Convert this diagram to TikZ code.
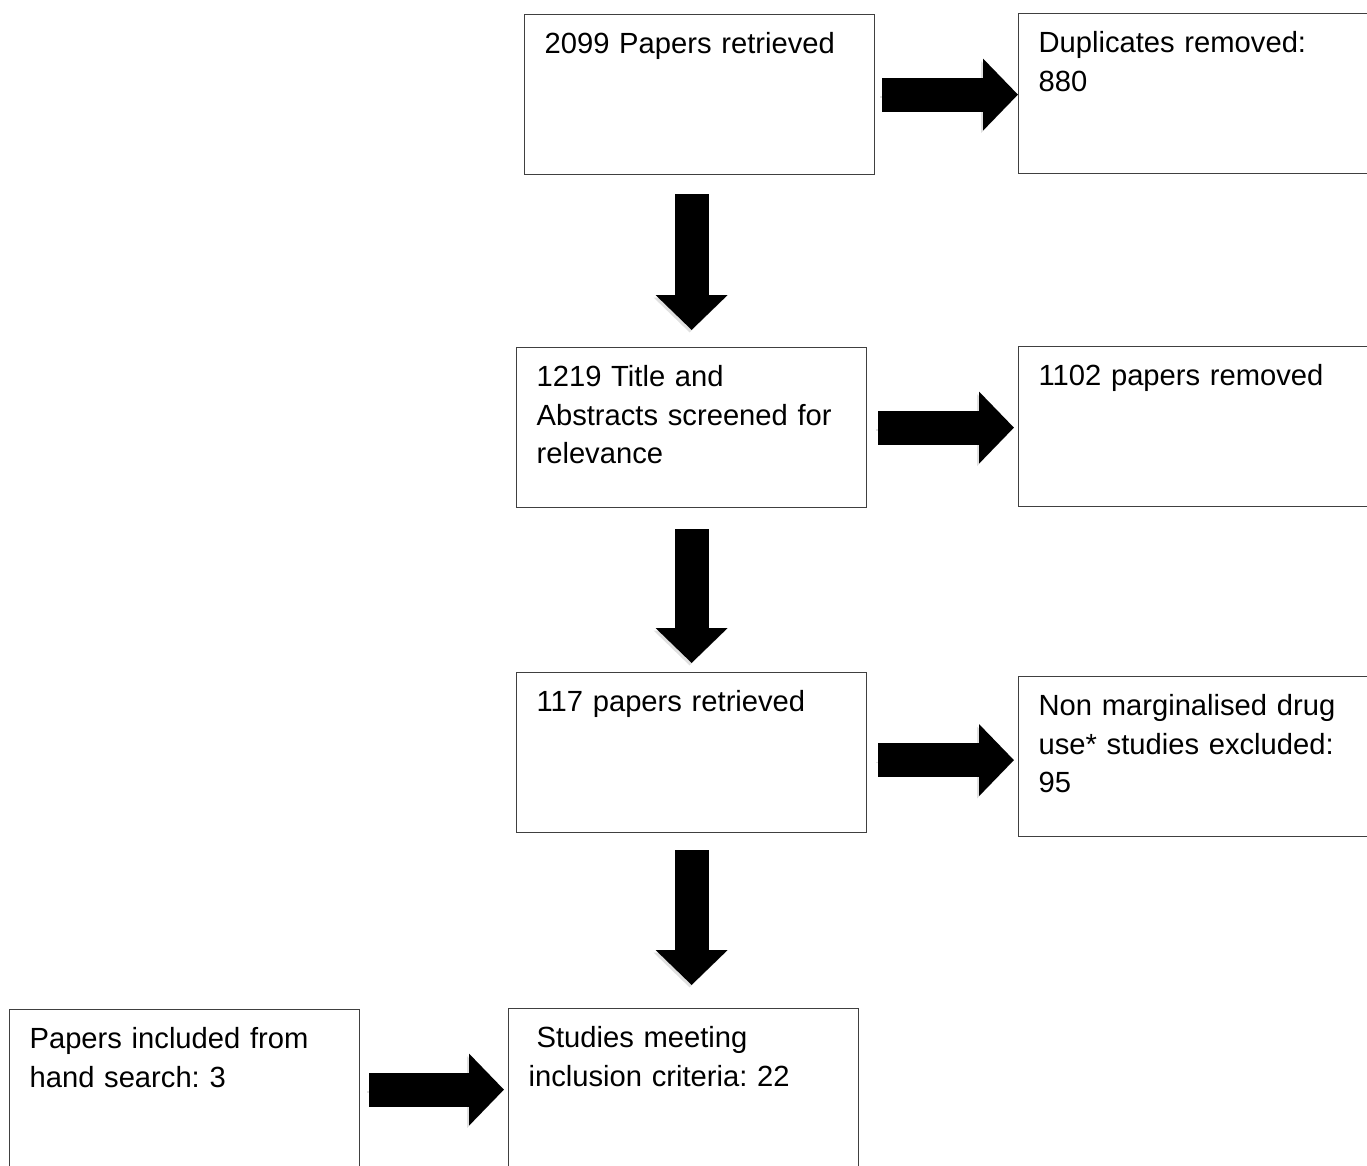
\documentclass[tikz,border=0pt]{standalone}
\usepackage{fontspec}
\setmainfont{Liberation Sans}
\usetikzlibrary{arrows.meta}
\frenchspacing

\begin{document}
\begin{tikzpicture}[x=0.1mm, y=-0.1mm,
    box/.style={draw=black!75, line width=0.12mm, anchor=north west, align=left,
        text width=31mm, inner xsep=2mm, inner ysep=0pt, text height=3.9mm, text depth=12.1mm,
        font=\fontsize{8.3}{10.96}\selectfont},
    bigarrow/.style={line width=3.4mm, -{Triangle[width=7mm, length=3.5mm]},
        preaction={draw=black!12, transform canvas={shift={(-0.2mm,-0.25mm)}}}}]
        \clip (0,0) rectangle (1367,1165);

        % Main column
        \node[box] (ret) at (524,14) {2099 Papers retrieved};
        \node[box] (scr) at (516,347) {1219 Title and\\Abstracts screened for\\relevance};
        \node[box] (ret2) at (516,672) {117 papers retrieved};
        \node[box] (inc) at (508,1008) {\hspace*{0.8mm}Studies meeting\\inclusion criteria: 22};

        % Side boxes
        \node[box] (dup) at (1018,13) {Duplicates removed:\\880};
        \node[box] (rem) at (1018,346) {1102 papers removed};
        \node[box] (exc) at (1018,676) {Non marginalised drug\\use* studies excluded:\\95};
        \node[box] (hand) at (9,1009) {Papers included from\\hand search: 3};

        % Arrows down
        \draw[bigarrow, shorten <=1.9mm, shorten >=1.7mm] (ret.south -| scr.north) -- (scr.north);
        \draw[bigarrow, shorten <=2.1mm, shorten >=0.9mm] (scr.south) -- (ret2.north);
        \draw[bigarrow, shorten <=1.7mm, shorten >=2.3mm] (ret2.south) -- (ret2.south |- inc.north);

        % Arrows to the right
        \draw[bigarrow, shorten <=0.7mm] (ret.east) -- (ret.east -| dup.west);
        \draw[bigarrow, shorten <=1.1mm, shorten >=0.4mm] (scr.east) -- (scr.east -| rem.west);
        \coordinate (exc-in) at ([yshift=-0.75mm]ret2.east);
        \draw[bigarrow, shorten <=1.1mm, shorten >=0.4mm] (exc-in) -- (exc-in -| exc.west);
        \draw[bigarrow, shorten <=0.9mm, shorten >=0.4mm] (hand.east) -- (hand.east -| inc.west);
    \end{tikzpicture}
\end{document}
